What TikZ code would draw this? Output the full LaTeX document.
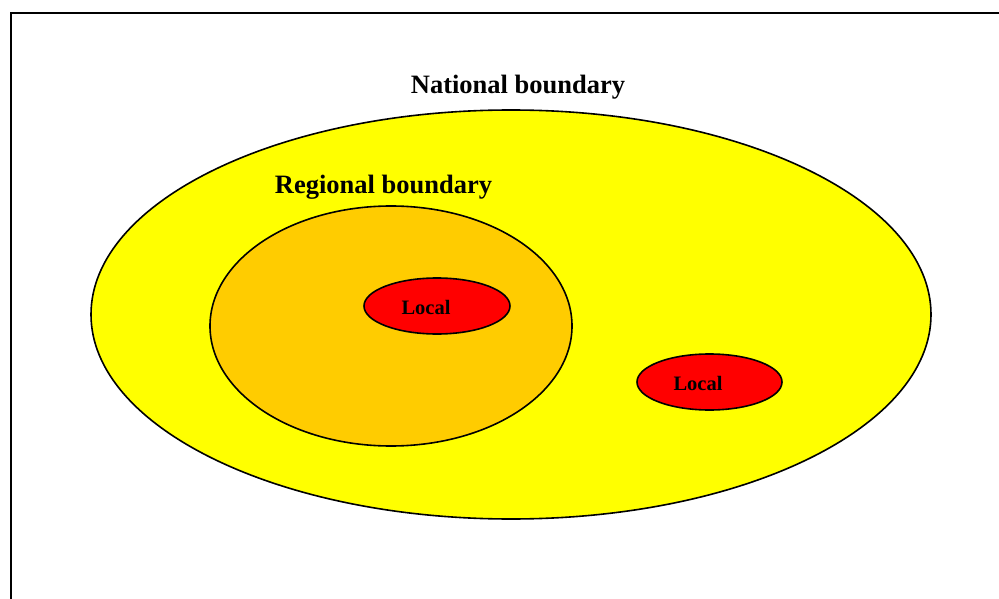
\documentclass[tikz,border=0pt]{standalone}
\usepackage{fontspec}
\setmainfont{Liberation Serif}
\usetikzlibrary{shapes.geometric}
\definecolor{natyellow}{HTML}{FFFF00}
\definecolor{regorange}{HTML}{FFCC00}
\definecolor{locred}{HTML}{FF0000}
\tikzset{
  zone/.style={ellipse, draw=black, line width=1.6pt, inner sep=0pt},
  title/.style={font=\fontsize{26.5}{30}\selectfont\bfseries, inner sep=0pt},
  small/.style={font=\fontsize{20.5}{24}\selectfont\bfseries, inner sep=0pt},
}
\begin{document}
\begin{tikzpicture}[x=1pt,y=-1pt]
  \useasboundingbox[fill=white] (0,0) rectangle (999,599);
  % page frame, running off the right and bottom edges
  \draw[line width=2pt] (999,13.5) -- (10.5,13.5) -- (10.5,599);
  % nested boundaries
  \node[zone, fill=natyellow, minimum width=840pt, minimum height=409pt] (nat) at (511,314.5) {};
  \node[zone, fill=regorange, minimum width=362pt, minimum height=240pt] (reg) at (391,326) {};
  \node[zone, fill=locred, minimum width=146pt, minimum height=56pt] (loc1) at (437,306) {};
  \node[zone, fill=locred, minimum width=145pt, minimum height=56pt] (loc2) at (709.5,382) {};
  % labels
  \node[title] (natlab) at (518,87.5) {National boundary};
  \node[title] (reglab) at (383.5,187.5) {Regional boundary};
  \node[small] (loc1lab) at (426,307.5) {Local};
  \node[small] (loc2lab) at (698,383.5) {Local};
\end{tikzpicture}
\end{document}
